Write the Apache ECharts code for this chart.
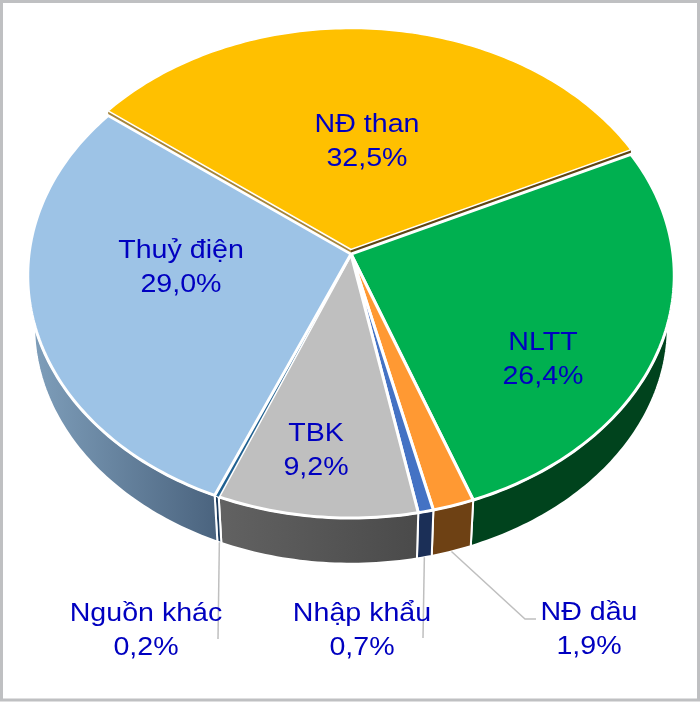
<!DOCTYPE html>
<html>
<head>
<meta charset="utf-8">
<title>Cơ cấu nguồn điện</title>
<style>
    html, body { margin: 0; padding: 0; background: #fff; }
    #chart { width: 700px; height: 702px; }
</style>
<script src="https://cdn.jsdelivr.net/npm/echarts@6/dist/echarts.min.js"></script>
</head>
<body>
<div id="chart"></div>
<script>
// chart data, clockwise from the NĐ than / NLTT boundary
var categories = ['NLTT', 'NĐ dầu', 'Nhập khẩu', 'TBK', 'Nguồn khác', 'Thuỷ điện', 'NĐ than'];
var shares = [26.4, 1.9, 0.7, 9.2, 0.2, 29.0, 32.5];

// slice colours
var topColors = ['#00B050', '#FF9933', '#4472C4', '#BFBFBF', '#1F6091', '#9DC3E6', '#FFC000'];
var wallColors = [
    ['#00431D', '#00431D'],
    ['#6E4114', '#6E4114'],
    ['#1B2F57', '#1B2F57'],
    ['#626262', '#4A4A4A'],
    ['#1B3A5C', '#1B3A5C'],
    ['#80A0BC', '#4A637E'],
    ['#7F6000', '#7F6000']
];

// label layout (centre of the two text lines), same order as categories
var labelCenters = [[543, 360], [589, 630], [362, 631], [316, 451], [146, 631], [181, 268], [367, 142]];
// leader lines of the small slices: slice index -> points after the rim
var leaders = {
    1: [[525, 619], [536, 619]],
    2: [[423, 638]],
    4: [[218, 639]]
};

// pie projection
var START_ANGLE = 64.5;
var APEX = [351, 254];
var RADIUS_X = 322;
var RADIUS_Y = 240.6;
var PERSPECTIVE = 0.0887;
var WALL_APEX_Y = 305;
var WALL_SCALE = 0.98;
var COAL_LIFT = 4.5;
var COAL_INDEX = 6;

var total = shares.reduce(function (a, b) { return a + b; }, 0);

// start and end angle of a slice, in degrees clockwise from 12 o'clock
function sliceAngles(index) {
    var before = 0;
    for (var i = 0; i < index; i++) {
        before += shares[i];
    }
    return [
        START_ANGLE + before / total * 360,
        START_ANGLE + (before + shares[index]) / total * 360
    ];
}

// point on the top face
function topPoint(deg) {
    var rad = deg * Math.PI / 180;
    var u = Math.sin(rad), v = -Math.cos(rad);
    var s = 1 / (1 - PERSPECTIVE * v);
    return [APEX[0] + RADIUS_X * u * s, APEX[1] + RADIUS_Y * v * s];
}

// point on the lower rim, under the same angle
function wallPoint(deg) {
    var p = topPoint(deg);
    return [
        APEX[0] + WALL_SCALE * (p[0] - APEX[0]),
        WALL_APEX_Y + WALL_SCALE * (p[1] - APEX[1])
    ];
}

function arcPoints(range, pointFn) {
    var pts = [];
    var steps = Math.max(2, Math.ceil(range[1] - range[0]));
    for (var i = 0; i <= steps; i++) {
        pts.push(pointFn(range[0] + (range[1] - range[0]) * i / steps));
    }
    return pts;
}

function lift(pts, dy) {
    return pts.map(function (p) { return [p[0], p[1] + dy]; });
}

function renderWall(params, api) {
    var index = params.dataIndex;
    if (index === COAL_INDEX) {
        return null;
    }
    var range = sliceAngles(index);
    var pts = arcPoints(range, topPoint).concat(arcPoints(range, wallPoint).reverse());
    return {
        type: 'polygon',
        shape: { points: pts },
        style: {
            fill: new echarts.graphic.LinearGradient(0, 0, 1, 0, [
                { offset: 0, color: wallColors[index][0] },
                { offset: 1, color: wallColors[index][1] }
            ]),
            stroke: '#fff',
            lineWidth: 2
        }
    };
}

function renderTop(params, api) {
    var index = params.dataIndex;
    var range = sliceAngles(index);
    var pts = [APEX].concat(arcPoints(range, topPoint));

    if (index !== COAL_INDEX) {
        return {
            type: 'polygon',
            shape: { points: pts },
            style: {
                fill: topColors[index],
                stroke: index === 4 ? null : '#fff',
                lineWidth: 3,
                lineJoin: 'round'
            }
        };
    }

    // NĐ than is pulled out a little, so its cut faces show as a brown line
    var lifted = lift(pts, -COAL_LIFT);
    var first = lifted[1], last = lifted[lifted.length - 1], tip = lifted[0];
    return {
        type: 'group',
        children: [
            {
                type: 'polygon',
                shape: { points: [tip, first].concat(lift([first, tip], 3)) },
                style: { fill: '#A6853A' }
            },
            {
                type: 'polygon',
                shape: { points: [tip, last].concat(lift([last, tip], 3)) },
                style: { fill: '#5E4513' }
            },
            {
                type: 'polygon',
                shape: { points: lifted },
                style: { fill: topColors[index], stroke: '#fff', lineWidth: 1.5 }
            }
        ]
    };
}

function shareText(value) {
    return value.toFixed(1).replace('.', ',') + '%';
}

function renderLabel(params, api) {
    var index = params.dataIndex;
    var center = labelCenters[index];
    var children = [];

    if (leaders[index]) {
        var range = sliceAngles(index);
        var rim = wallPoint((range[0] + range[1]) / 2);
        children.push({
            type: 'polyline',
            shape: { points: [rim].concat(leaders[index]) },
            style: { fill: null, stroke: '#BFBFBF', lineWidth: 1.5 }
        });
    }
    children.push({
        type: 'text',
        x: center[0],
        y: center[1],
        scaleX: 1.1,
        style: {
            text: categories[index] + '\n' + shareText(api.value(0)),
            fill: '#0000C0',
            font: '26px "Liberation Sans", Arial, sans-serif',
            lineHeight: 34,
            align: 'center',
            verticalAlign: 'middle'
        }
    });
    return { type: 'group', children: children };
}

var chart = echarts.init(document.getElementById('chart'));
chart.setOption({
    animation: false,
    backgroundColor: '#fff',
    graphic: [{
        type: 'rect',
        silent: true,
        shape: { x: 1.5, y: 1.5, width: 697, height: 698.5 },
        style: { fill: null, stroke: '#BFC0C2', lineWidth: 3 }
    }],
    series: [
        { type: 'custom', coordinateSystem: 'none', silent: true, z: 1, data: shares, renderItem: renderWall },
        { type: 'custom', coordinateSystem: 'none', silent: true, z: 2, data: shares, renderItem: renderTop },
        { type: 'custom', coordinateSystem: 'none', silent: true, z: 3, data: shares, renderItem: renderLabel }
    ]
});
</script>
</body>
</html>
